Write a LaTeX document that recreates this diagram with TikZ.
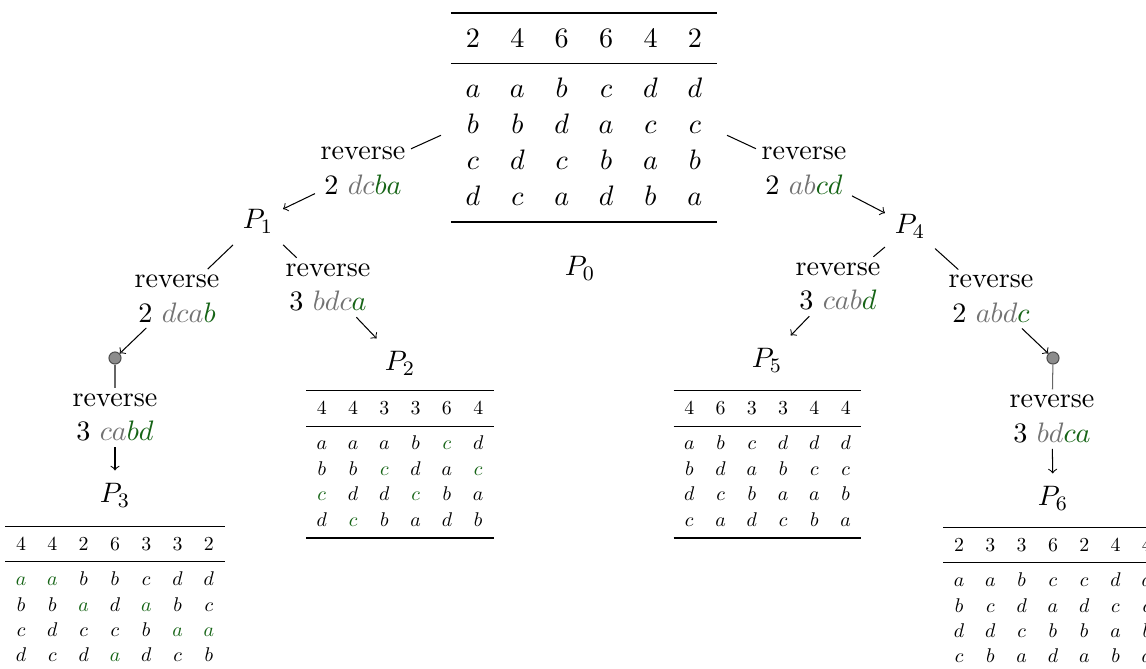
\documentclass[11pt,tikz,border=0pt]{standalone}
\usepackage{booktabs}
\usepackage{graphicx}
\definecolor{grn}{RGB}{22,100,22}
\definecolor{gry}{RGB}{115,115,115}
\newcommand\cG[1]{\textcolor{grn}{#1}}
\newcommand\cY[1]{\textcolor{gry}{#1}}
\setlength\tabcolsep{5.74pt}
\renewcommand\arraystretch{1.03}
\begin{document}
\begin{tikzpicture}[x=0.389pt,y=-0.389pt,
  lab/.style={align=center,inner sep=2pt},
  pn/.style={text height=8.8pt,text depth=2.6pt},
  tabn/.style={anchor=north},
  dotn/.style={circle,inner sep=0pt,minimum size=4.7pt,fill=black!45,draw=black!70},
  glink/.style={draw=black!60},
  arr/.style={->}
]
\useasboundingbox (0,0) rectangle (1146,668);

% P0 table
\node[tabn] (P0tab) at (584,2.1) {\begin{tabular}{cccccc}\toprule
2&4&6&6&4&2\\\midrule
$a$&$a$&$b$&$c$&$d$&$d$\\
$b$&$b$&$d$&$a$&$c$&$c$\\
$c$&$d$&$c$&$b$&$a$&$b$\\
$d$&$c$&$a$&$d$&$b$&$a$\\\bottomrule
\end{tabular}};
\node[pn] (P0) at (580,268) {$P_0$};

% level 1
\node[lab] (L1) at (363,170.5) {reverse\\2 $\cY{dc}\cG{ba}$};
\node[pn] (P1) at (258,221) {$P_1$};
\node[lab] (L4) at (804,171) {reverse\\2 $\cY{ab}\cG{cd}$};
\node[pn] (P4) at (910,226) {$P_4$};

% P1 children
\node[lab] (L3a) at (177,298.5) {reverse\\2 $\cY{dca}\cG{b}$};
\node[dotn] (d1) at (115,358) {};
\node[lab] (L3b) at (115,417.5) {reverse\\3 $\cY{ca}\cG{bd}$};
\node[pn] (P3) at (115,495) {$P_3$};
\node[tabn] (P3tab) at (115,515.6) {\scalebox{0.705}{\begin{tabular}{ccccccc}\toprule
4&4&2&6&3&3&2\\\midrule
$\cG{a}$&$\cG{a}$&$b$&$b$&$c$&$d$&$d$\\
$b$&$b$&$\cG{a}$&$d$&$\cG{a}$&$b$&$c$\\
$c$&$d$&$c$&$c$&$b$&$\cG{a}$&$\cG{a}$\\
$d$&$c$&$d$&$\cG{a}$&$d$&$c$&$b$\\\bottomrule
\end{tabular}}};

\node[lab] (L2) at (328,287.5) {reverse\\3 $\cY{bdc}\cG{a}$};
\node[pn] (P2) at (400,363) {$P_2$};
\node[tabn] (P2tab) at (400,379.8) {\scalebox{0.705}{\begin{tabular}{cccccc}\toprule
4&4&3&3&6&4\\\midrule
$a$&$a$&$a$&$b$&$\cG{c}$&$d$\\
$b$&$b$&$\cG{c}$&$d$&$a$&$\cG{c}$\\
$\cG{c}$&$d$&$d$&$\cG{c}$&$b$&$a$\\
$d$&$\cG{c}$&$b$&$a$&$d$&$b$\\\bottomrule
\end{tabular}}};

% P4 children
\node[lab] (L5) at (838,286.5) {reverse\\3 $\cY{cab}\cG{d}$};
\node[pn] (P5) at (767,360) {$P_5$};
\node[tabn] (P5tab) at (767.5,379.8) {\scalebox{0.705}{\begin{tabular}{cccccc}\toprule
4&6&3&3&4&4\\\midrule
$a$&$b$&$c$&$d$&$d$&$d$\\
$b$&$d$&$a$&$b$&$c$&$c$\\
$d$&$c$&$b$&$a$&$a$&$b$\\
$c$&$a$&$d$&$c$&$b$&$a$\\\bottomrule
\end{tabular}}};

\node[lab] (L6a) at (991,299) {reverse\\2 $\cY{abd}\cG{c}$};
\node[dotn] (d2) at (1053,358) {};
\node[lab] (L6b) at (1052,419) {reverse\\3 $\cY{bd}\cG{ca}$};
\node[pn] (P6) at (1053,498) {$P_6$};
\node[tabn] (P6tab) at (1053,516.6) {\scalebox{0.705}{\begin{tabular}{ccccccc}\toprule
2&3&3&6&2&4&4\\\midrule
$a$&$a$&$b$&$c$&$c$&$d$&$d$\\
$b$&$c$&$d$&$a$&$d$&$c$&$c$\\
$d$&$d$&$c$&$b$&$b$&$a$&$b$\\
$c$&$b$&$a$&$d$&$a$&$b$&$a$\\\bottomrule
\end{tabular}}};

% connectors
\draw (P0tab.187) -- (L1);
\draw[arr] (L1) -- (P1);
\draw (P0tab.353) -- (L4);
\draw[arr] (L4) -- (P4);

\draw (P1) -- (L3a);
\draw[arr] (L3a) -- (d1);
\draw[glink] (d1) -- (L3b);
\draw[arr] (L3b) -- (P3);
\draw (P1) -- (L2);
\draw[arr] (L2) -- (P2);

\draw (P4) -- (L5);
\draw[arr] (L5) -- (P5);
\draw (P4) -- (L6a);
\draw[arr] (L6a) -- (d2);
\draw[glink] (d2) -- (L6b);
\draw[arr] (L6b) -- (P6);
\end{tikzpicture}
\end{document}
